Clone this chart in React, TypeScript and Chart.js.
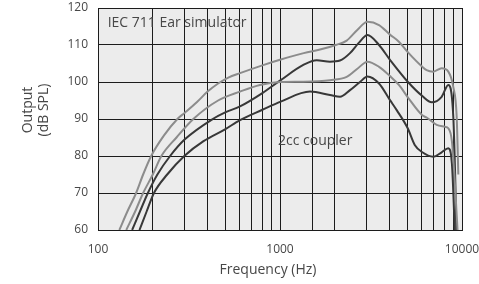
import React, { useEffect, useRef } from "react";
import { Chart, registerables } from "chart.js";

Chart.register(...registerables);

// ---- data ----
const yTickValues = [60, 70, 80, 90, 100, 110, 120];
const xTickLabels = [100, 1000, 10000];

// IEC 711 ear simulator, upper (grey)
const earHighFreq = [131, 145, 162, 177, 196, 230, 273, 300, 350, 400, 457, 520, 603, 800, 1000, 1350, 1700, 2023, 2325, 2650, 3025, 3500, 4021, 4500, 5050, 6053, 6390, 6955, 7730, 8408, 8956, 9350, 9546];
const earHighLevel = [60, 65, 70, 75, 80, 85.5, 90, 91.7, 94.6, 97.4, 99.6, 101.2, 102.4, 104.5, 106, 107.8, 108.9, 110, 111.2, 114, 116.3, 115.4, 112.8, 110.9, 108, 104.1, 103.2, 102.8, 103.7, 102.8, 98.7, 90.6, 75];

// IEC 711 ear simulator, lower (grey)
const earLowFreq = [143, 160, 177, 200, 223, 270, 334, 457, 603, 776, 1000, 1346, 1882, 2325, 2650, 3025, 3500, 4021, 4500, 5050, 6053, 6390, 7261, 8063, 8408, 8800, 9155, 9500];
const earLowLevel = [60, 65, 70, 75, 80, 85, 90, 95, 97.4, 99.2, 100, 100.1, 100.5, 101.4, 103.5, 105.5, 104.1, 101.6, 99.2, 95.8, 91, 90.4, 88.4, 87.9, 87.5, 84, 72, 58];

// 2cc coupler, upper (dark)
const cplHighFreq = [154, 170, 188, 212, 249, 300, 427, 500, 603, 800, 1009, 1343, 1591, 1882, 2136, 2425, 2700, 3025, 3500, 4021, 5050, 6053, 6818, 7730, 8408, 8956, 9200, 9320];
const cplHighLevel = [60, 65, 70, 75, 80, 84.5, 90, 91.8, 93.4, 97, 100.5, 104.6, 105.9, 105.5, 105.8, 107.8, 110.5, 112.7, 110, 106, 100, 96.2, 94.5, 96, 99.2, 90.6, 72, 58];

// 2cc coupler, lower (dark)
const cplLowFreq = [169, 185, 203, 240, 298, 380, 499, 603, 800, 1009, 1462, 1882, 2136, 2425, 2750, 3025, 3500, 4021, 4378, 5032, 5500, 6053, 6955, 7730, 8408, 8800, 9155];
const cplLowLevel = [60, 65, 70, 75, 80, 84, 87.2, 89.7, 92.5, 94.7, 97.4, 96.5, 96, 97.8, 100, 101.5, 99.6, 95.1, 92.4, 87.5, 83, 81, 79.8, 81, 82.1, 78, 58];

const GREY = "#8c8c8c";
const DARK = "#383838";
const TEXT = "#474747";
const FONT = "'Open Sans', sans-serif";

const toPoints = (xs: number[], ys: number[]) => xs.map((x, i) => ({ x, y: ys[i] }));

const plotBg = {
  id: "plotBg",
  beforeDraw(chart: any) {
    const { ctx, chartArea } = chart;
    ctx.save();
    ctx.fillStyle = "#ececec";
    ctx.fillRect(chartArea.left, chartArea.top, chartArea.right - chartArea.left, chartArea.bottom - chartArea.top);
    ctx.restore();
  },
};

const textPlugin = {
  id: "texts",
  afterDraw(chart: any) {
    const { ctx, chartArea, scales } = chart;
    const xs = scales.x;
    const ys = scales.y;
    ctx.save();
    ctx.fillStyle = TEXT;
    ctx.font = `14px ${FONT}`;
    ctx.textBaseline = "middle";
    ctx.textAlign = "left";
    ctx.fillText("IEC 711 Ear simulator", xs.getPixelForValue(113), ys.getPixelForValue(115.9));
    ctx.fillText("2cc coupler", xs.getPixelForValue(975), ys.getPixelForValue(84.1));
    // x title
    ctx.textAlign = "center";
    ctx.fillText("Frequency (Hz)", (chartArea.left + chartArea.right) / 2 - 12, 270);
    // y title
    ctx.translate(28, 110);
    ctx.rotate(-Math.PI / 2);
    ctx.fillText("Output", 0, 0);
    ctx.fillText("(dB SPL)", 0, 16);
    ctx.restore();
  },
};

export default function App() {
  const ref = useRef<HTMLCanvasElement | null>(null);
  useEffect(() => {
    if (!ref.current) return;
    const mk = (label: string, xs: number[], ys: number[], color: string) => ({
      label,
      data: toPoints(xs, ys),
      borderColor: color,
      borderWidth: 2,
      pointRadius: 0,
      fill: false,
      cubicInterpolationMode: "monotone" as const,
    });
    const chart = new Chart(ref.current, {
      type: "line",
      data: {
        datasets: [
          mk("IEC 711 high", earHighFreq, earHighLevel, GREY),
          mk("IEC 711 low", earLowFreq, earLowLevel, GREY),
          mk("2cc high", cplHighFreq, cplHighLevel, DARK),
          mk("2cc low", cplLowFreq, cplLowLevel, DARK),
        ],
      },
      options: {
        animation: false,
        responsive: false,
        devicePixelRatio: 1,
        layout: { padding: { top: 8, right: 0, left: 0, bottom: 0 } },
        plugins: { legend: { display: false }, tooltip: { enabled: false } },
        scales: {
          x: {
            type: "logarithmic",
            min: 100,
            max: 10000,
            afterFit: (s: any) => { s.height = 54; s.paddingLeft = 0; s.paddingRight = 17; },
            grid: { color: "#1c1c1c", lineWidth: 1, drawTicks: false },
            border: { color: "#1c1c1c" },
            ticks: {
              autoSkip: false,
              maxRotation: 0,
              padding: 12,
              color: TEXT,
              font: { family: FONT, size: 12 },
              callback: (v: any) => (xTickLabels.includes(Number(v)) ? String(v) : ""),
            },
          },
          y: {
            type: "linear",
            min: yTickValues[0],
            max: yTickValues[yTickValues.length - 1],
            afterFit: (s: any) => { s.width = 98; s.paddingTop = 0; s.paddingBottom = 0; },
            afterBuildTicks: (s: any) => { s.ticks = yTickValues.map((v) => ({ value: v })); },
            grid: { color: "#1c1c1c", lineWidth: 1, drawTicks: false },
            border: { color: "#1c1c1c" },
            ticks: {
              padding: 10,
              color: TEXT,
              font: { family: FONT, size: 12 },
            },
          },
        },
      },
      plugins: [plotBg, textPlugin],
    });
    return () => chart.destroy();
  }, []);
  return (
    <div style={{ position: "fixed", left: 0, top: 0, width: 479, height: 284, background: "#fff" }}>
      <canvas ref={ref} width={479} height={284} />
    </div>
  );
}
